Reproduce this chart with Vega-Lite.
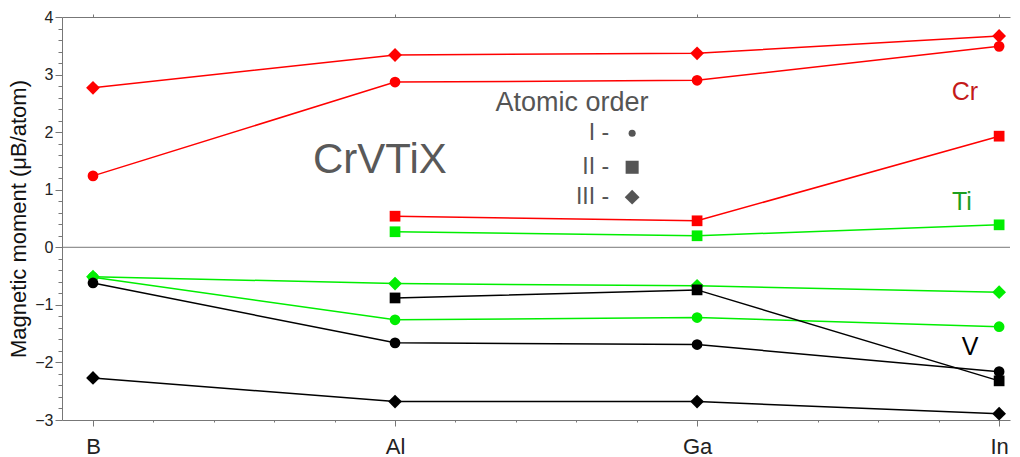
{
  "$schema": "https://vega.github.io/schema/vega-lite/v6.json",
  "width": 948,
  "height": 403,
  "autosize": {"type": "none"},
  "padding": {"left": 62, "top": 17, "right": 10, "bottom": 37},
  "background": "white",
  "config": {
    "view": {"stroke": null},
    "font": "Liberation Sans",
    "axis": {"domainColor": "#777777", "tickColor": "#777777", "grid": false, "labelOverlap": false}
  },
  "datasets": {
    "moments": [
      {"el": "Cr", "ord": "I", "name": "B", "x": 0, "y": 1.24},
      {"el": "Cr", "ord": "I", "name": "Al", "x": 1, "y": 2.87},
      {"el": "Cr", "ord": "I", "name": "Ga", "x": 2, "y": 2.9},
      {"el": "Cr", "ord": "I", "name": "In", "x": 3, "y": 3.49},
      {"el": "Cr", "ord": "II", "name": "Al", "x": 1, "y": 0.54},
      {"el": "Cr", "ord": "II", "name": "Ga", "x": 2, "y": 0.46},
      {"el": "Cr", "ord": "II", "name": "In", "x": 3, "y": 1.93},
      {"el": "Cr", "ord": "III", "name": "B", "x": 0, "y": 2.77},
      {"el": "Cr", "ord": "III", "name": "Al", "x": 1, "y": 3.34},
      {"el": "Cr", "ord": "III", "name": "Ga", "x": 2, "y": 3.37},
      {"el": "Cr", "ord": "III", "name": "In", "x": 3, "y": 3.67},
      {"el": "Ti", "ord": "III", "name": "B", "x": 0, "y": -0.51},
      {"el": "Ti", "ord": "III", "name": "Al", "x": 1, "y": -0.63},
      {"el": "Ti", "ord": "III", "name": "Ga", "x": 2, "y": -0.67},
      {"el": "Ti", "ord": "III", "name": "In", "x": 3, "y": -0.78},
      {"el": "Ti", "ord": "II", "name": "Al", "x": 1, "y": 0.27},
      {"el": "Ti", "ord": "II", "name": "Ga", "x": 2, "y": 0.2},
      {"el": "Ti", "ord": "II", "name": "In", "x": 3, "y": 0.39},
      {"el": "Ti", "ord": "I", "name": "B", "x": 0, "y": -0.52},
      {"el": "Ti", "ord": "I", "name": "Al", "x": 1, "y": -1.26},
      {"el": "Ti", "ord": "I", "name": "Ga", "x": 2, "y": -1.22},
      {"el": "Ti", "ord": "I", "name": "In", "x": 3, "y": -1.38},
      {"el": "V", "ord": "I", "name": "B", "x": 0, "y": -0.62},
      {"el": "V", "ord": "I", "name": "Al", "x": 1, "y": -1.66},
      {"el": "V", "ord": "I", "name": "Ga", "x": 2, "y": -1.69},
      {"el": "V", "ord": "I", "name": "In", "x": 3, "y": -2.16},
      {"el": "V", "ord": "II", "name": "Al", "x": 1, "y": -0.88},
      {"el": "V", "ord": "II", "name": "Ga", "x": 2, "y": -0.74},
      {"el": "V", "ord": "II", "name": "In", "x": 3, "y": -2.32},
      {"el": "V", "ord": "III", "name": "B", "x": 0, "y": -2.27},
      {"el": "V", "ord": "III", "name": "Al", "x": 1, "y": -2.68},
      {"el": "V", "ord": "III", "name": "Ga", "x": 2, "y": -2.68},
      {"el": "V", "ord": "III", "name": "In", "x": 3, "y": -2.89}
    ]
  },
  "resolve": {"axis": {"x": "independent"}},
  "encoding": {
    "y": {
      "field": "y", "type": "quantitative",
      "scale": {"domain": [-3, 4], "nice": false, "zero": false},
      "axis": {
        "values": [-3, -2.8, -2.6, -2.4, -2.2, -2, -1.8, -1.6, -1.4, -1.2, -1, -0.8, -0.6, -0.4, -0.2, 0, 0.2, 0.4, 0.6, 0.8, 1, 1.2, 1.4, 1.6, 1.8, 2, 2.2, 2.4, 2.6, 2.8, 3, 3.2, 3.4, 3.6, 3.8, 4],
        "labelExpr": "abs(datum.value - round(datum.value)) < 0.01 ? format(datum.value, 'd') : ''",
        "labelOverlap": false,
        "tickSize": {"condition": {"test": "abs(datum.value - round(datum.value)) < 0.01", "value": 7}, "value": 4},
        "labelPadding": 2,
        "labelFontSize": 16,
        "labelColor": "#222222",
        "labelFont": "Liberation Sans",
        "title": "Magnetic moment (μB/atom)",
        "titleFont": "Liberation Sans",
        "titleFontSize": 22,
        "titleFontWeight": "normal",
        "titleColor": "#111111",
        "titlePadding": 4
      }
    }
  },
  "layer": [
    {
      "data": {"values": [{"y": 0}]},
      "mark": {"type": "rule", "color": "#777777", "strokeWidth": 1},
      "encoding": {}
    },
    {
      "data": {"name": "moments"},
      "mark": {"type": "line", "strokeWidth": 1.5},
      "encoding": {
        "x": {
          "field": "x", "type": "quantitative",
          "scale": {"domain": [-0.1026, 3.036], "nice": false, "zero": false},
          "axis": {
            "orient": "bottom",
            "values": [0, 0.2, 0.4, 0.6, 0.8, 1, 1.2, 1.4, 1.6, 1.8, 2, 2.2, 2.4, 2.6, 2.8, 3],
            "labelExpr": "datum.value == 0 ? 'B' : datum.value == 1 ? 'Al' : datum.value == 2 ? 'Ga' : datum.value == 3 ? 'In' : ''",
            "labelOverlap": false,
            "tickSize": {"condition": {"test": "abs(datum.value - round(datum.value)) < 0.01", "value": 6}, "value": 2},
            "labelPadding": 10,
            "labelFontSize": 22,
            "labelColor": "#222222",
            "labelFont": "Liberation Sans",
            "title": null
          }
        },
        "detail": {"field": "ord"},
        "color": {
          "field": "el", "type": "nominal",
          "scale": {"domain": ["Cr", "Ti", "V"], "range": ["#ff0000", "#00ee00", "#000000"]},
          "legend": null
        }
      }
    },
    {
      "data": {"name": "moments"},
      "mark": {"type": "point", "filled": true, "opacity": 1},
      "encoding": {
        "x": {"field": "x", "type": "quantitative", "axis": null},
        "color": {"field": "el", "type": "nominal", "legend": null},
        "shape": {
          "field": "ord", "type": "nominal",
          "scale": {"domain": ["I", "II", "III"], "range": ["circle", "square", "diamond"]},
          "legend": null
        },
        "size": {"condition": {"test": "datum.ord == 'III'", "value": 190}, "value": 115}
      }
    },
    {
      "data": {"values": [{"t": "Cr", "x": 2.887, "y": 2.7}]},
      "mark": {"type": "text", "fontSize": 25, "color": "#c41a1a", "baseline": "middle", "align": "center", "font": "Liberation Sans"},
      "encoding": {
        "x": {"field": "x", "type": "quantitative", "axis": null},
        "text": {"field": "t"}
      }
    },
    {
      "data": {"values": [{"t": "Ti", "x": 2.877, "y": 0.79}]},
      "mark": {"type": "text", "fontSize": 25, "color": "#1e9e1e", "baseline": "middle", "align": "center", "font": "Liberation Sans"},
      "encoding": {
        "x": {"field": "x", "type": "quantitative", "axis": null},
        "text": {"field": "t"}
      }
    },
    {
      "data": {"values": [{"t": "V", "x": 2.904, "y": -1.73}]},
      "mark": {"type": "text", "fontSize": 25, "color": "#000000", "baseline": "middle", "align": "center", "font": "Liberation Sans"},
      "encoding": {
        "x": {"field": "x", "type": "quantitative", "axis": null},
        "text": {"field": "t"}
      }
    },
    {
      "data": {"values": [{"t": "CrVTiX", "x": 0.95, "y": 1.52}]},
      "mark": {"type": "text", "fontSize": 42, "color": "#595959", "baseline": "middle", "align": "center", "font": "Liberation Sans"},
      "encoding": {
        "x": {"field": "x", "type": "quantitative", "axis": null},
        "text": {"field": "t"}
      }
    },
    {
      "data": {"values": [{"t": "Atomic order", "x": 1.586, "y": 2.51}]},
      "mark": {"type": "text", "fontSize": 27, "color": "#555555", "baseline": "middle", "align": "center", "font": "Liberation Sans"},
      "encoding": {
        "x": {"field": "x", "type": "quantitative", "axis": null},
        "text": {"field": "t"}
      }
    },
    {
      "data": {"values": [
        {"t": "I -", "x": 1.709, "y": 1.98},
        {"t": "II -", "x": 1.709, "y": 1.39},
        {"t": "III -", "x": 1.709, "y": 0.87}
      ]},
      "mark": {"type": "text", "fontSize": 23, "color": "#555555", "baseline": "middle", "align": "right", "font": "Liberation Sans"},
      "encoding": {
        "x": {"field": "x", "type": "quantitative", "axis": null},
        "text": {"field": "t"}
      }
    },
    {
      "data": {"values": [
        {"ord": "I", "x": 1.785, "y": 1.98},
        {"ord": "II", "x": 1.785, "y": 1.39},
        {"ord": "III", "x": 1.785, "y": 0.87}
      ]},
      "mark": {"type": "point", "filled": true, "opacity": 1, "color": "#555555"},
      "encoding": {
        "x": {
          "field": "x", "type": "quantitative",
          "axis": {"orient": "top", "values": [0, 1, 2, 3], "labels": false, "tickSize": 3, "title": null, "domainColor": "#777777", "tickColor": "#777777"}
        },
        "shape": {"field": "ord", "type": "nominal", "legend": null},
        "size": {"condition": [{"test": "datum.ord == 'I'", "value": 50}, {"test": "datum.ord == 'II'", "value": 170}], "value": 220}
      }
    }
  ]
}
